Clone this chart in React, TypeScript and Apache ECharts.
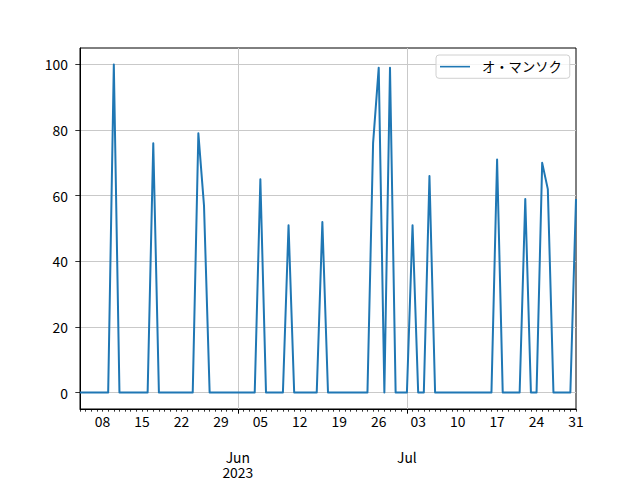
import React, { useEffect, useRef } from "react";
import * as echarts from "echarts";

const startDate = Date.UTC(2023, 4, 4);
const dayCount = 89;
const dates: Date[] = Array.from({ length: dayCount }, (_, i) => new Date(startDate + i * 86400000));
const categories = dates.map((d) => d.toISOString().slice(0, 10));

const seriesName = "オ・マンソク";
const values = [
  0, 0, 0, 0, 0, 0, 100, 0, 0, 0,
  0, 0, 0, 76, 0, 0, 0, 0, 0, 0,
  0, 79, 57, 0, 0, 0, 0, 0, 0, 0,
  0, 0, 65, 0, 0, 0, 0, 51, 0, 0,
  0, 0, 0, 52, 0, 0, 0, 0, 0, 0,
  0, 0, 76, 99, 0, 99, 0, 0, 0, 51,
  0, 0, 66, 0, 0, 0, 0, 0, 0, 0,
  0, 0, 0, 0, 71, 0, 0, 0, 0, 59,
  0, 0, 70, 62, 0, 0, 0, 0, 59,
];
const yTicks = [0, 20, 40, 60, 80, 100];
const monthNames = ["Jan", "Feb", "Mar", "Apr", "May", "Jun", "Jul", "Aug", "Sep", "Oct", "Nov", "Dec"];
const yearLabelMonth = 5; // the year is written under June

const FONT = "'Noto Sans CJK JP', 'Noto Sans', sans-serif";
const FS = 13.9;
const GRID_COLOR = "#c9c9c9";

const isWeekTick = (i: number) => dates[i].getUTCDay() === 1;
const isMonthStart = (i: number) => dates[i].getUTCDate() === 1;
const isYearLabel = (i: number) => isMonthStart(i) && dates[i].getUTCMonth() === yearLabelMonth;

export default function App() {
  const ref = useRef<HTMLDivElement>(null);
  useEffect(() => {
    if (!ref.current) return;
    const chart = echarts.init(ref.current, undefined, { renderer: "svg" });
    const labelBase = { color: "#000000", fontFamily: FONT, fontSize: FS };
    chart.setOption({
      animation: false,
      backgroundColor: "#ffffff",
      textStyle: { fontFamily: FONT },
      grid: {
        left: 80,
        right: 64,
        top: 48,
        bottom: 71,
        show: true,
        borderColor: "#000000",
        borderWidth: 1,
        backgroundColor: "transparent",
        containLabel: false,
      },
      legend: {
        show: true,
        left: 436,
        top: 55,
        padding: [5, 8, 5, 4],
        backgroundColor: "rgba(255,255,255,0.8)",
        borderColor: "#d0d0d0",
        borderWidth: 1,
        borderRadius: 3,
        itemWidth: 30,
        itemHeight: 14,
        icon: "path://M0,6.2L30,6.2L30,7.8L0,7.8Z",
        textStyle: { fontFamily: FONT, fontSize: 13.3, color: "#000000", padding: [0, 0, 0, 7] },
        data: [{ name: seriesName, itemStyle: { color: "#1f77b4" } }],
      },
      xAxis: [
        {
          type: "category",
          data: categories,
          boundaryGap: false,
          position: "bottom",
          axisLine: { show: true, onZero: false, lineStyle: { color: "#000000", width: 1 } },
          axisTick: { show: true, interval: 0, length: 2.7, lineStyle: { color: "#000000", width: 0.8 } },
          axisLabel: {
            ...labelBase,
            show: true,
            interval: (i: number) => isWeekTick(i),
            formatter: (v: string) => v.slice(8, 10),
            margin: 5,
          },
          splitLine: {
            show: true,
            interval: (i: number) => isMonthStart(i),
            lineStyle: { color: GRID_COLOR, width: 1 },
          },
        },
        {
          type: "category",
          data: categories,
          boundaryGap: false,
          position: "bottom",
          axisLine: { show: false, onZero: false },
          axisTick: {
            show: true,
            interval: (i: number) => isMonthStart(i),
            length: 4.7,
            lineStyle: { color: "#000000", width: 1 },
          },
          axisLabel: {
            ...labelBase,
            show: true,
            interval: (i: number) => isMonthStart(i),
            formatter: (v: string) => monthNames[dates[categories.indexOf(v)].getUTCMonth()],
            margin: 40.5,
            lineHeight: 14.5,
          },
          splitLine: { show: false },
        },
        {
          type: "category",
          data: categories,
          boundaryGap: false,
          position: "bottom",
          axisLine: { show: false, onZero: false },
          axisTick: { show: false },
          axisLabel: {
            ...labelBase,
            show: true,
            interval: (i: number) => isYearLabel(i),
            formatter: (v: string) => String(dates[categories.indexOf(v)].getUTCFullYear()),
            margin: 55.5,
            lineHeight: 14.5,
          },
          splitLine: { show: false },
        },
      ],
      yAxis: {
        type: "value",
        min: -5,
        max: 105,
        axisLine: { show: true, onZero: false, lineStyle: { color: "#000000", width: 1 } },
        axisTick: { show: true, length: 4.7, customValues: yTicks, lineStyle: { color: "#000000", width: 0.8 } },
        axisLabel: {
          ...labelBase,
          show: true,
          customValues: yTicks,
          margin: 12,
        },
        splitLine: { show: true, lineStyle: { color: GRID_COLOR, width: 1 } },
      },
      series: [
        {
          name: seriesName,
          type: "line",
          xAxisIndex: 0,
          data: values,
          symbol: "none",
          showSymbol: false,
          color: "#1f77b4",
          lineStyle: { color: "#1f77b4", width: 2, join: "round" },
        },
      ],
    });
    return () => chart.dispose();
  }, []);
  return <div ref={ref} style={{ position: "absolute", left: 0, top: 0, width: 640, height: 480 }} />;
}
